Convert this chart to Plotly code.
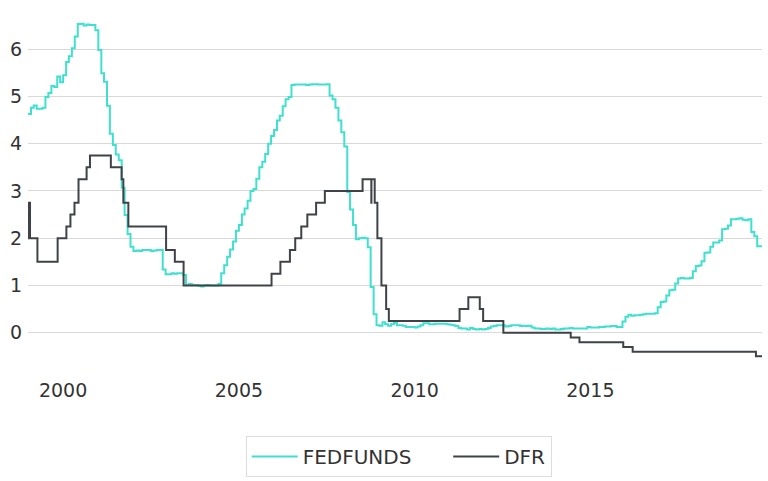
import plotly.graph_objects as go
import pandas as pd

# FEDFUNDS monthly, 1999-01 .. 2019-10
fedfunds_values = [
    4.63, 4.76, 4.81, 4.74, 4.74, 4.76, 4.99, 5.07, 5.22, 5.20, 5.42, 5.30,
    5.45, 5.73, 5.85, 6.02, 6.27, 6.53, 6.54, 6.50, 6.52, 6.51, 6.51, 6.40,
    5.98, 5.49, 5.31, 4.80, 4.21, 3.97, 3.77, 3.65, 3.07, 2.49, 2.09, 1.82,
    1.73, 1.74, 1.73, 1.75, 1.75, 1.75, 1.73, 1.74, 1.75, 1.75, 1.34, 1.24,
    1.24, 1.26, 1.25, 1.26, 1.26, 1.22, 1.01, 1.03, 1.01, 1.01, 1.00, 0.98,
    1.00, 1.01, 1.00, 1.00, 1.00, 1.03, 1.26, 1.43, 1.61, 1.76, 1.93, 2.16,
    2.28, 2.50, 2.63, 2.79, 3.00, 3.04, 3.26, 3.50, 3.62, 3.78, 4.00, 4.16,
    4.29, 4.49, 4.59, 4.79, 4.94, 4.99, 5.24, 5.25, 5.25, 5.25, 5.25, 5.24,
    5.25, 5.26, 5.26, 5.25, 5.25, 5.25, 5.26, 5.02, 4.94, 4.76, 4.49, 4.24,
    3.94, 2.98, 2.61, 2.28, 1.98, 2.00, 2.01, 2.00, 1.81, 0.97, 0.39, 0.16,
    0.15, 0.22, 0.18, 0.15, 0.18, 0.21, 0.16, 0.16, 0.15, 0.12, 0.12, 0.12,
    0.11, 0.13, 0.16, 0.20, 0.20, 0.18, 0.18, 0.19, 0.19, 0.19, 0.19, 0.18,
    0.17, 0.16, 0.14, 0.10, 0.09, 0.09, 0.07, 0.10, 0.08, 0.07, 0.08, 0.07,
    0.08, 0.10, 0.13, 0.14, 0.16, 0.16, 0.16, 0.13, 0.14, 0.16, 0.16, 0.16,
    0.14, 0.15, 0.14, 0.15, 0.11, 0.09, 0.09, 0.08, 0.08, 0.09, 0.08, 0.09,
    0.07, 0.07, 0.08, 0.09, 0.09, 0.10, 0.09, 0.09, 0.09, 0.09, 0.09, 0.12,
    0.11, 0.11, 0.11, 0.12, 0.12, 0.13, 0.13, 0.14, 0.14, 0.12, 0.12, 0.24,
    0.34, 0.38, 0.36, 0.37, 0.37, 0.38, 0.39, 0.40, 0.40, 0.40, 0.41, 0.54,
    0.65, 0.66, 0.79, 0.90, 0.91, 1.04, 1.15, 1.16, 1.15, 1.15, 1.16, 1.30,
    1.41, 1.42, 1.51, 1.69, 1.70, 1.82, 1.91, 1.91, 1.95, 2.19, 2.20, 2.27,
    2.40, 2.40, 2.41, 2.42, 2.39, 2.38, 2.40, 2.13, 2.04, 1.83,
]
fedfunds_dates = [d.strftime("%Y-%m-%d") for d in
                  pd.date_range("1999-01-01", periods=len(fedfunds_values), freq="MS")]

# ECB deposit facility rate: change dates and new values
dfr_dates = [
    "1999-01-01", "1999-01-04", "1999-01-22", "1999-04-09", "1999-11-05",
    "2000-02-04", "2000-03-17", "2000-04-28", "2000-06-09", "2000-09-01",
    "2000-10-06", "2001-05-11", "2001-08-31", "2001-09-18", "2001-11-09",
    "2002-12-06", "2003-03-07", "2003-06-06", "2005-12-06", "2006-03-08",
    "2006-06-15", "2006-08-09", "2006-10-11", "2006-12-13", "2007-03-14",
    "2007-06-13", "2008-07-09", "2008-10-08", "2008-10-09", "2008-11-12",
    "2008-12-10", "2009-01-21", "2009-03-11", "2009-04-08", "2011-04-13",
    "2011-07-13", "2011-11-09", "2011-12-14", "2012-07-11", "2014-06-11",
    "2014-09-10", "2015-12-09", "2016-03-16", "2019-09-18",
]
dfr_values = [
    2.00, 2.75, 2.00, 1.50, 2.00,
    2.25, 2.50, 2.75, 3.25, 3.50,
    3.75, 3.50, 3.25, 2.75, 2.25,
    1.75, 1.50, 1.00, 1.25, 1.50,
    1.75, 2.00, 2.25, 2.50, 2.75,
    3.00, 3.25, 2.75, 3.25, 2.75,
    2.00, 1.00, 0.50, 0.25, 0.50,
    0.75, 0.50, 0.25, 0.00, -0.10,
    -0.20, -0.30, -0.40, -0.50,
]

series_names = ["FEDFUNDS", "DFR"]
end_date = "2019-11-20"
x_tick_dates = ["2000-01-01", "2005-01-01", "2010-01-01", "2015-01-01"]
x_tick_labels = ["2000", "2005", "2010", "2015"]
y_tick_vals = [0, 1, 2, 3, 4, 5, 6]

fig = go.Figure()
fig.add_trace(go.Scatter(
    x=fedfunds_dates + [end_date], y=fedfunds_values + [fedfunds_values[-1]],
    mode="lines", name=series_names[0] + "\u00a0" * 5,
    line=dict(color="#40E0D0", width=2, shape="hv"),
))
fig.add_trace(go.Scatter(
    x=dfr_dates + [end_date], y=dfr_values + [dfr_values[-1]],
    mode="lines", name=series_names[1],
    line=dict(color="#3f4347", width=2, shape="hv"),
))

fig.update_layout(
    width=768, height=481,
    margin=dict(l=28, r=6, t=7, b=108, autoexpand=False),
    paper_bgcolor="white", plot_bgcolor="white",
    font=dict(family="DejaVu Sans", size=19, color="#333333"),
    showlegend=True,
    legend=dict(orientation="h", x=0.505, xanchor="center", y=-0.172, yanchor="top",
                bordercolor="#dddddd", borderwidth=1, font=dict(size=20),
                itemwidth=46, traceorder="normal"),
    xaxis=dict(range=[fedfunds_dates[0], end_date], tickvals=x_tick_dates,
               ticktext=x_tick_labels, showgrid=False, zeroline=False,
               showline=False, ticks="", automargin=False, ticklabelstandoff=4),
    yaxis=dict(range=[-0.852, 6.892], tickvals=y_tick_vals, showgrid=True,
               gridcolor="#d9d9d9", gridwidth=1, zeroline=False, showline=False,
               ticks="", automargin=False, ticklabelstandoff=5),
)
fig.write_html("out.html", config={"displayModeBar": False},
               post_script="document.body.style.margin='0';")
